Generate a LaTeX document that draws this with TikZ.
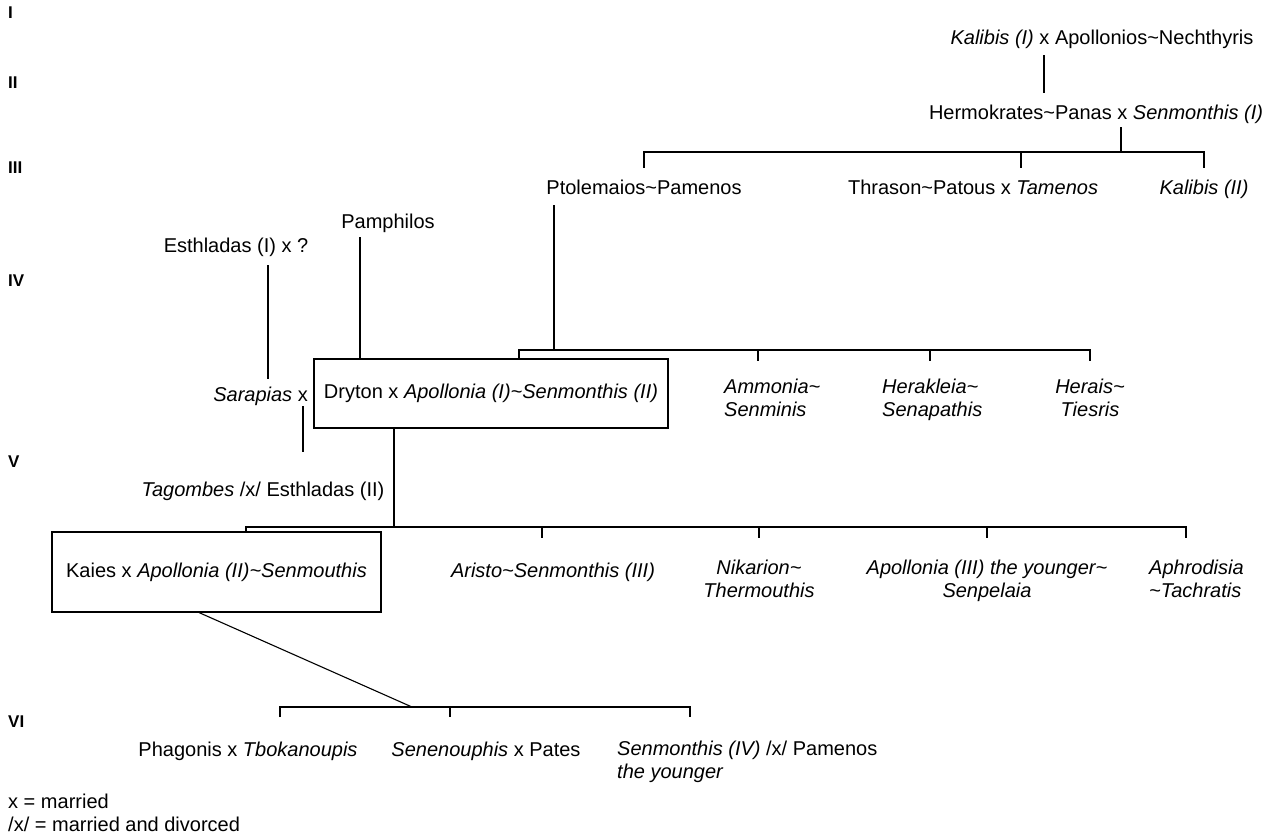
\documentclass[tikz,border=0pt]{standalone}
\usepackage{fontspec}
\setmainfont{Liberation Sans}
\usepackage{tikz}
\newcommand{\tild}{\textasciitilde}

\begin{document}
\begin{tikzpicture}[
        x=1pt, y=-1pt,
        every node/.style={font=\fontsize{20}{23}\selectfont, inner sep=0pt},
        person/.style={anchor=north, text height=15pt, text depth=5pt},
        persons/.style={anchor=north, align=center},
        it/.style={font=\fontsize{20}{23}\selectfont\itshape},
        couple/.style={draw, line width=1.1pt, text height=15pt, text depth=5pt},
        gen/.style={anchor=west, font=\fontsize{17}{20}\selectfont\bfseries},
        famline/.style={line width=1.1pt}
    ]
    \useasboundingbox (0,0) rectangle (1276,837);

    \node[gen] (g1) at (8,13) {I};
    \node[gen] (g2) at (8,83) {II};
    \node[gen] (g3) at (8,168) {III};
    \node[gen] (g4) at (8,281) {IV};
    \node[gen] (g5) at (8,462) {V};
    \node[gen] (g6) at (8,722) {VI};

    \node[person] (kalibisA) at (1102,29) {\textit{Kalibis (I)} x Apollonios\tild Nechthyris};
    \node[person] (hermokrates) at (1096,104) {Hermokrates\tild Panas x \textit{Senmonthis (I)}};
    \coordinate (m12) at (1044,0);
    \draw[famline, shorten <=6pt, shorten >=11pt] (kalibisA.south -| m12) -- (hermokrates.north -| m12);

    \node[person] (ptolemaios) at (644,179) {Ptolemaios\tild Pamenos};
    \node[person] (thrason) at (973,179) {Thrason\tild Patous x \textit{Tamenos}};
    \node[person] (kalibisB) at (1204,179) {\textit{Kalibis (II)}};
    \coordinate (bar3) at (1121,152);
    \draw[famline, shorten <=3pt] (hermokrates.south -| bar3) -- (bar3);
    \draw[famline] ([yshift=11pt]ptolemaios.north) -- (ptolemaios.north |- bar3) -- (kalibisB.north |- bar3) -- ([yshift=11pt]kalibisB.north);
    \draw[famline] ([xshift=48pt]thrason.north |- bar3) -- ([xshift=48pt,yshift=11pt]thrason.north);

    \node[person] (pamphilos) at (388,213) {Pamphilos};
    \node[person] (esthladasA) at (236,237) {Esthladas (I) x ?};
    \node[couple, minimum width=354pt, minimum height=69pt] (dryton) at (491,393.5) {Dryton x \textit{Apollonia (I)\tild Senmonthis (II)}};
    \node[person, anchor=north east] (sarapias) at (308,386) {\textit{Sarapias} x};
    \node[persons, it, anchor=north west, align=left] (ammonia) at (724,379) {Ammonia\tild\\Senminis};
    \node[persons, it, anchor=north west, align=left] (herakleia) at (882,379) {Herakleia\tild\\Senapathis};
    \node[persons, it] (herais) at (1090,379) {Herais\tild\\Tiesris};
    \coordinate (bar4) at (554,350);
    \draw[famline, shorten <=6pt] ([xshift=-90pt]ptolemaios.south) -- (bar4);
    \draw[famline] ([xshift=28pt]dryton.north) -- ([xshift=28pt]dryton.north |- bar4) -- (herais.north |- bar4) -- ([yshift=18pt]herais.north);
    \draw[famline] ([xshift=34pt]ammonia.north west |- bar4) -- ([xshift=34pt,yshift=18pt]ammonia.north west);
    \draw[famline] ([xshift=48pt]herakleia.north west |- bar4) -- ([xshift=48pt,yshift=18pt]herakleia.north west);
    \draw[famline, shorten <=4pt] ([xshift=-28pt]pamphilos.south) -- ([xshift=-28pt]pamphilos.south |- dryton.north);
    \draw[famline, shorten <=8pt, shorten >=7pt] ([xshift=32pt]esthladasA.south) -- ([xshift=32pt]esthladasA.south |- sarapias.north);

    \node[person] (tagombes) at (263,481) {\textit{Tagombes} /x/ Esthladas (II)};
    \draw[famline, shorten >=29pt] ([xshift=-5pt]sarapias.south east) -- ([xshift=-5pt]sarapias.south east |- tagombes.north);

    \node[couple, minimum width=329pt, minimum height=80pt] (kaies) at (216.5,572) {Kaies x \textit{Apollonia (II)\tild Senmouthis}};
    \node[person, it] (aristo) at (553,562) {Aristo\tild Senmonthis (III)};
    \node[persons, it] (nikarion) at (759,560) {Nikarion\tild\\Thermouthis};
    \node[persons, it] (apolloniaC) at (987,560) {Apollonia (III) the younger\tild\\Senpelaia};
    \node[persons, it, anchor=north west, align=left] (aphrodisia) at (1149,560) {Aphrodisia\\\tild Tachratis};
    \coordinate (bar5) at (394,527);
    \draw[famline] ([xshift=-97pt]dryton.south) -- (bar5);
    \draw[famline] ([xshift=29.5pt]kaies.north) -- ([xshift=29.5pt]kaies.north |- bar5) -- ([xshift=37pt]aphrodisia.north west |- bar5) -- ([xshift=37pt,yshift=22pt]aphrodisia.north west);
    \draw[famline] ([xshift=-11pt]aristo.north |- bar5) -- ([xshift=-11pt,yshift=24pt]aristo.north);
    \draw[famline] (nikarion.north |- bar5) -- ([yshift=22pt]nikarion.north);
    \draw[famline] (apolloniaC.north |- bar5) -- ([yshift=22pt]apolloniaC.north);

    \node[person] (phagonis) at (248,741) {Phagonis x \textit{Tbokanoupis}};
    \node[person] (senenouphis) at (486,741) {\textit{Senenouphis} x Pates};
    \node[persons, anchor=north west, align=left] (senmonthisD) at (617,741) {\textit{Senmonthis (IV)} /x/ Pamenos\\\textit{the younger}};
    \coordinate (bar6) at (412,707);
    \draw[famline] ([xshift=-17.5pt]kaies.south) -- (bar6);
    \draw[famline] ([xshift=32pt,yshift=24pt]phagonis.north) -- ([xshift=32pt]phagonis.north |- bar6) -- ([xshift=73pt]senmonthisD.north west |- bar6) -- ([xshift=73pt,yshift=24pt]senmonthisD.north west);
    \draw[famline] ([xshift=-36pt]senenouphis.north |- bar6) -- ([xshift=-36pt,yshift=24pt]senenouphis.north);

    \node[anchor=north west, align=left] (legend) at (8,794) {x = married\\/x/ = married and divorced};
\end{tikzpicture}
\end{document}
